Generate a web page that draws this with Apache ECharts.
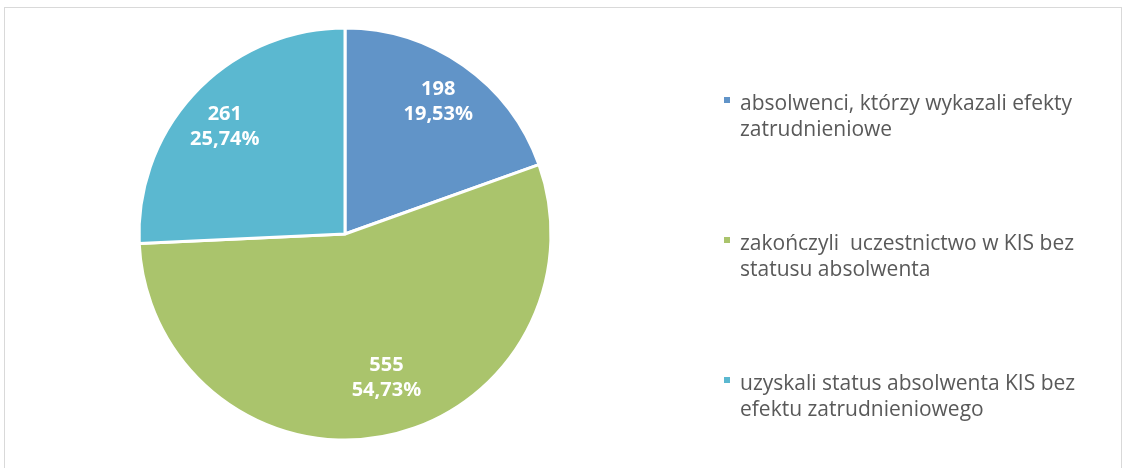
<!DOCTYPE html>
<html>
<head>
<meta charset="utf-8">
<script src="https://cdn.jsdelivr.net/npm/echarts@6/dist/echarts.min.js"></script>
<style>
  html, body { margin: 0; padding: 0; background: #fff; }
  .frame {
    position: absolute; left: 4px; top: 7px; width: 1118px; height: 470px;
    border: 1px solid #d9d9d9; box-sizing: border-box;
  }
  #chart { position: absolute; left: 0; top: 0; width: 1125px; height: 468px; }
</style>
</head>
<body>
<div class="frame"></div>
<div id="chart"></div>
<script>
  // kategorie i wartości
  const categories = [
    'absolwenci, którzy wykazali efekty\nzatrudnieniowe',
    'zakończyli  uczestnictwo w KIS bez\nstatusu absolwenta',
    'uzyskali status absolwenta KIS bez\nefektu zatrudnieniowego'
  ]
  const values = [198, 555, 261]
  const colors = ['#6194C8', '#AAC46C', '#5BB8D0']

  const pieData = categories.map((name, i) => {
    return { name: name, value: values[i], itemStyle: { color: colors[i] } }
  })

  // lekkie przesunięcie etykiet (jak w Excelu)
  const labelOffsets = [[0, 0], [10, -15], [-3, 5]]

  const chart = echarts.init(document.getElementById('chart'))
  const option = {
    animation: false,
    legend: {
      orient: 'vertical',
      left: 722,
      top: 91,
      padding: 0,
      itemGap: 88,
      itemWidth: 8,
      itemHeight: 42,
      // kwadracik przy pierwszej linii
      icon: 'path://M0,0h8v8h-8z M0,41.99h0.01v0.01h-0.01z',
      data: categories,
      textStyle: {
        fontFamily: 'Open Sans',
        fontSize: 21,
        lineHeight: 26,
        color: '#595959',
        padding: [0, 0, 0, 4]
      }
    },
    series: [
      {
        type: 'pie',
        center: [345, 234],
        radius: [0, 206],
        startAngle: 90,
        itemStyle: { borderColor: '#fff', borderWidth: 3 },
        label: { show: false },
        labelLine: { show: false },
        silent: true,
        data: pieData
      },
      {
        // przezroczysta warstwa tylko dla etykiet
        type: 'pie',
        center: [345, 234],
        radius: [0, 318],
        startAngle: 90,
        silent: true,
        legendHoverLink: false,
        itemStyle: { color: 'rgba(0,0,0,0)' },
        label: {
          show: true,
          position: 'inside',
          color: '#fff',
          fontFamily: 'Open Sans',
          fontWeight: 'bold',
          fontSize: 20,
          lineHeight: 25,
          align: 'center',
          formatter: p => p.value + '\n' + p.percent.toFixed(2).replace('.', ',') + '%'
        },
        labelLine: { show: false },
        data: values.map((v, i) => ({ name: 'lbl' + i, value: v, label: { offset: labelOffsets[i] } }))
      }
    ]
  }
  chart.setOption(option)
</script>
</body>
</html>
